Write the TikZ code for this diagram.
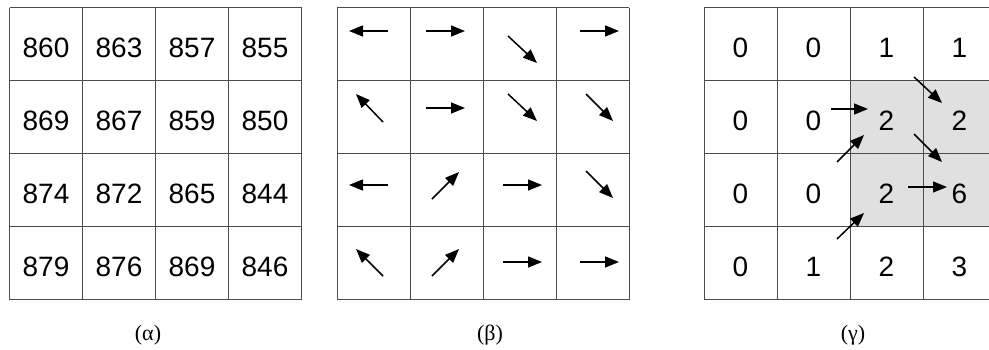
\documentclass[tikz,border=0pt]{standalone}
\usepackage{fontspec}
\setmainfont{Liberation Serif}
\newfontfamily\numfont{Liberation Sans}
\usetikzlibrary{arrows.meta}
\tikzset{
  num/.style={inner sep=0pt, font=\numfont\fontsize{28}{30}\selectfont},
  caption/.style={inner sep=0pt, font=\fontsize{22}{24}\selectfont},
  gridline/.style={black!70, line width=1pt},
  flow/.style={line width=1.5pt, -{Triangle[length=14pt,width=11pt]}},
}
\begin{document}
\begin{tikzpicture}[x=1pt, y=-1pt]
    \clip (0,0) rectangle (989,349);

    % Shaded cells of the last grid
    \fill[black!12] (850,80.5) rectangle (996,226.5);

    % Draw the three grids
    \foreach \gx in {9.5, 337, 704}
        \foreach \k in {0,...,4} {
            \draw[gridline] (\gx+\k*73,7.5) -- (\gx+\k*73,299.5);
            \draw[gridline] (\gx,7.5+\k*73) -- (\gx+292,7.5+\k*73);
        }

    % Grid (a): values
    \begin{scope}[shift={(9.5,7.5)}]
        \foreach \row [count=\r] in {{860,863,857,855},{869,867,859,850},{874,872,865,844},{879,876,869,846}}
            \foreach \v [count=\c] in \row
                \node[num] (a-\r-\c) at ({(\c-0.5)*73},{(\r-0.5)*73+3.5}) {\v};
    \end{scope}

    % Grid (b): directions
    \foreach \xa/\ya/\xb/\yb in {388/31/349/31, 426/31/465/31, 508/36/537/63, 580/31/619/31,
                                 383/122/356/94, 426/108/465/108, 508/94/537/121, 586/94/613/121,
                                 388/185/349/185, 432/199/459/172, 503/185/542/185, 586/171/613/198,
                                 383/276/356/249, 432/276/459/249, 503/262/542/262, 580/262/619/262}
        \draw[flow] (\xa,\ya) -- (\xb,\yb);

    % Grid (c): accumulation
    \begin{scope}[shift={(704,7.5)}]
        \foreach \row [count=\r] in {{0,0,1,1},{0,0,2,2},{0,0,2,6},{0,1,2,3}}
            \foreach \v [count=\c] in \row
                \node[num] (c-\r-\c) at ({(\c-0.5)*73},{(\r-0.5)*73+3.5}) {\v};
    \end{scope}
    \foreach \xa/\ya/\xb/\yb in {914/77/942/103, 831/109/868/109, 837/162/864/135,
                                 914/134/942/162, 908/187/947/187, 837/239/864/213}
        \draw[flow] (\xa,\ya) -- (\xb,\yb);

    % Captions
    \node[caption] (alpha) at (148,335) {(α)};
    \node[caption] (beta) at (490,335) {(β)};
    \node[caption] (gamma) at (853,335) {(γ)};
\end{tikzpicture}
\end{document}
